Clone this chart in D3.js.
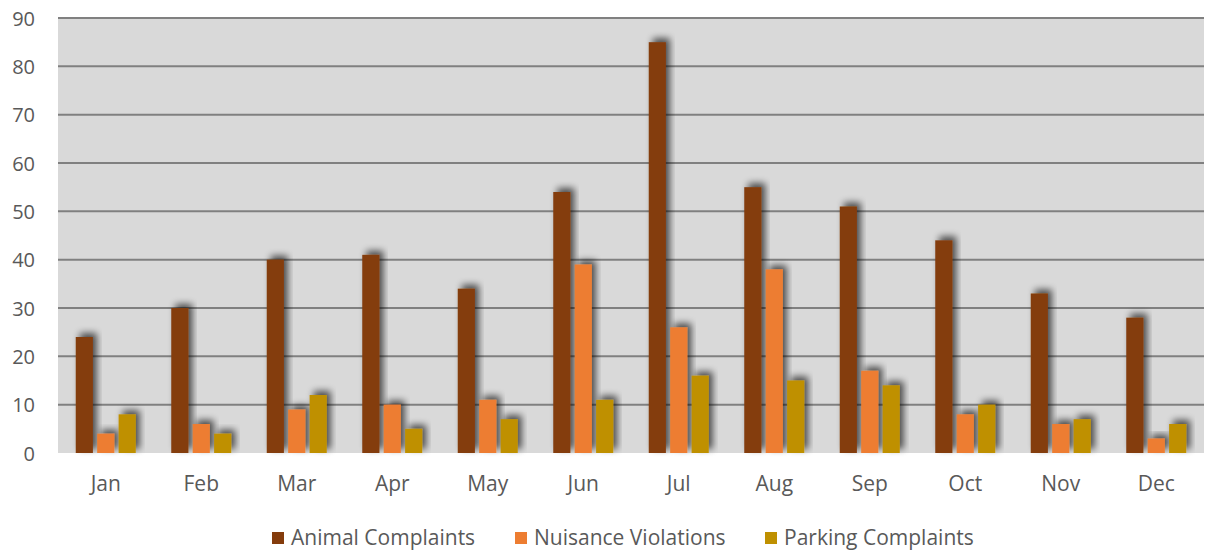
<html>
<head>
<script src="https://d3js.org/d3.v7.min.js"></script>
<style>
body { margin: 0; background: white; }
text { font-family: 'Open Sans', sans-serif; fill: #595959; }
</style>
</head>
<body>
<svg width="1205" height="552"></svg>
<script>
const months = ["Jan","Feb","Mar","Apr","May","Jun","Jul","Aug","Sep","Oct","Nov","Dec"];
const seriesNames = ["Animal Complaints", "Nuisance Violations", "Parking Complaints"];
const animal = [24, 30, 40, 41, 34, 54, 85, 55, 51, 44, 33, 28];
const nuisance = [4, 6, 9, 10, 11, 39, 26, 38, 17, 8, 6, 3];
const parking = [8, 4, 12, 5, 7, 11, 16, 15, 14, 10, 7, 6];
const yTicks = [0, 10, 20, 30, 40, 50, 60, 70, 80, 90];
const colors = ["#843c0c", "#ed7d31", "#bf9000"];

const svg = d3.select("svg");
const plotL = 58, plotR = 1204, plotT = 18, plotB = 453;

// soft shadow up and to the right
const defs = svg.append("defs");
const f = defs.append("filter").attr("id", "shadow")
    .attr("x", "-50%").attr("y", "-50%").attr("width", "200%").attr("height", "200%");
f.append("feGaussianBlur").attr("in", "SourceAlpha").attr("stdDeviation", 3.5).attr("result", "blur");
f.append("feOffset").attr("in", "blur").attr("dx", 4).attr("dy", -4).attr("result", "off");
f.append("feComponentTransfer").attr("in", "off").attr("result", "soft")
    .append("feFuncA").attr("type", "linear").attr("slope", 0.65);
const m = f.append("feMerge");
m.append("feMergeNode").attr("in", "soft");
m.append("feMergeNode").attr("in", "SourceGraphic");

var y = d3.scaleLinear().domain([0, 90]).range([plotB, plotT]);
var x = d3.scaleBand().domain(months).range([plotL, plotR]);
var x1 = d3.scaleBand().domain(seriesNames).range([-30, 30]).paddingInner(0.2);

svg.append("rect")
    .attr("x", plotL).attr("y", plotT)
    .attr("width", plotR - plotL).attr("height", plotB - plotT)
    .attr("fill", "#d9d9d9");

svg.append("g")
    .selectAll("line")
    .data(yTicks.filter(d => d > 0))
    .enter()
    .append("line")
    .attr("x1", plotL).attr("x2", plotR)
    .attr("y1", d => y(d)).attr("y2", d => y(d))
    .attr("stroke", "#808080")
    .attr("stroke-width", 2);

svg.append("g")
    .selectAll("text")
    .data(yTicks)
    .enter()
    .append("text")
    .attr("x", 35)
    .attr("y", d => y(d) + 7.5)
    .attr("text-anchor", "end")
    .style("font-size", "20px")
    .text(d => d);

const allSeries = [animal, nuisance, parking];
const g = svg.append("g");
allSeries.forEach((vals, si) => {
    g.selectAll(".s" + si)
    .data(vals)
    .enter()
    .append("rect")
    .attr("x", (d, i) => x(months[i]) + x.bandwidth() / 2 + x1(seriesNames[si]))
    .attr("y", d => y(d))
    .attr("width", x1.bandwidth())
    .attr("height", d => plotB - y(d))
    .attr("fill", colors[si])
    .attr("filter", "url(#shadow)");
});

svg.append("g")
    .selectAll("text")
    .data(months)
    .enter()
    .append("text")
    .attr("x", d => x(d) + x.bandwidth() / 2)
    .attr("y", 491)
    .attr("text-anchor", "middle")
    .style("font-size", "21px")
    .text(d => d);

const legX = [272, 515, 765];
const leg = svg.append("g");
seriesNames.forEach((s, i) => {
    leg.append("rect")
    .attr("x", legX[i]).attr("y", 532)
    .attr("width", 12).attr("height", 12)
    .attr("fill", colors[i]);
    leg.append("text")
    .attr("x", legX[i] + 19)
    .attr("y", 545)
    .style("font-size", "21px")
    .text(s);
});
</script>
</body>
</html>
